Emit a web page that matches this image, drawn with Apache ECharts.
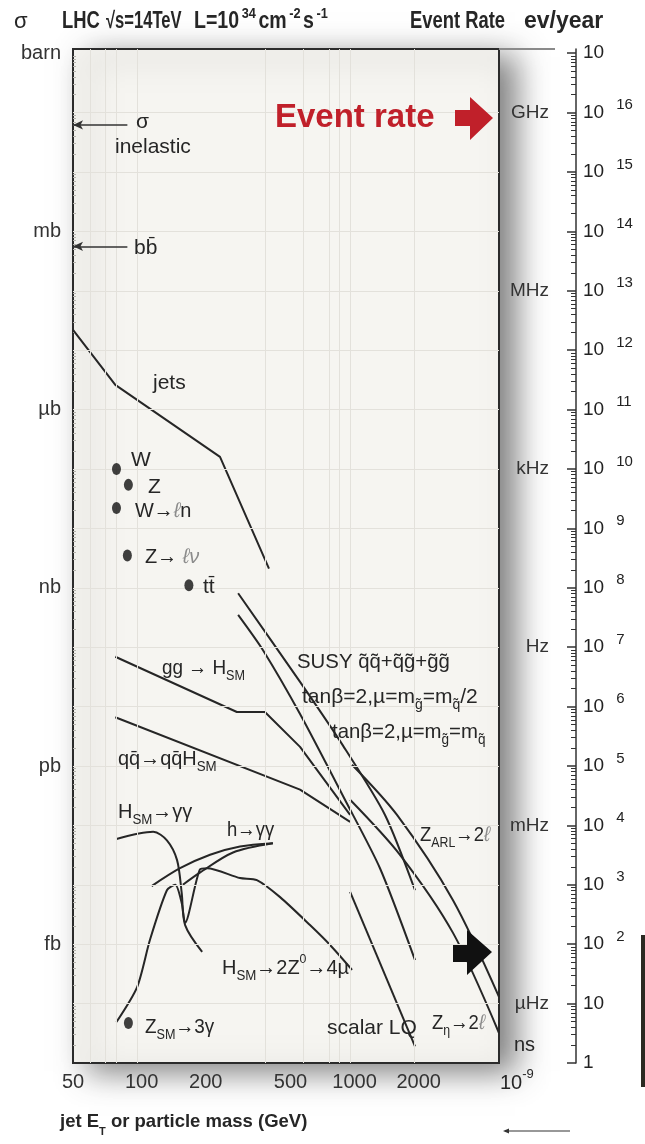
<!DOCTYPE html>
<html>
<head>
<meta charset="utf-8">
<script src="https://cdn.jsdelivr.net/npm/echarts@6/dist/echarts.min.js"></script>
<style>
  html, body { margin: 0; padding: 0; background: #ffffff; }
  #chart { width: 645px; height: 1144px; }
</style>
</head>
<body>
<div id="chart"></div>
<script>
// ---- axis labels ----
const massTicks = [50, 100, 200, 500, 1000, 2000];                 // GeV
const sigmaUnits = ['barn', 'mb', 'µb', 'nb', 'pb', 'fb'];
const sigmaUnitRates = [1e17, 1e14, 1e11, 1e8, 1e5, 1e2];          // ev/year at L=1e34
const freqUnits = ['GHz', 'MHz', 'kHz', 'Hz', 'mHz', 'µHz'];
const freqUnitRates = [1e16, 1e13, 1e10, 1e7, 1e4, 1e1];
const rateTicks = [1, 1e1, 1e2, 1e3, 1e4, 1e5, 1e6, 1e7, 1e8, 1e9, 1e10,
                   1e11, 1e12, 1e13, 1e14, 1e15, 1e16, 1e17];
const gridMasses = [60, 70, 80, 100, 400, 600, 800, 900, 1000, 2000];

// ---- reference levels marked by arrows on the sigma axis (ev/year) ----
const sigmaInelasticRate = 6.2e15;
const bbbarRate = 5.6e13;
const arrowEndMass = 90;

// ---- curves: [mass or E_T (GeV), events / year] ----
const jets = [[50, 2.2e12], [79, 2.6e11], [245, 1.6e10], [416, 2.1e8]];
const ggH = [[79, 6.9e6], [294, 8.1e5], [398, 8.1e5], [582, 2.1e5], [1000, 1.5e4]];
const qqH = [[79, 6.6e5], [582, 4.0e4], [1000, 1.15e4]];
const susyHalf = [[298, 8.1e7], [582, 2.6e6], [926, 2.2e5], [1458, 1.5e4], [2017, 8.1e2]];
const susyEqual = [[298, 3.5e7], [390, 8.9e6], [582, 7.5e5], [946, 2.7e4], [1381, 1.9e3], [2017, 54]];
const zARL = [[1021, 1.05e5], [1660, 1.5e4], [3041, 5.5e2], [5000, 13]];
const zEta = [[1000, 2.7e4], [1714, 3.2e3], [3041, 1.55e2], [5000, 3.2]];
const scalarLQ = [[1000, 7.6e2], [2017, 1.9]];
const hGammaGamma = [[80, 5.9e3], [119, 7.8e3], [138, 5.6e3], [154, 2.6e3], [162, 7.2e2], [168, 2.1e2], [202, 74]];
const hZZ4l = [[80, 4.9], [100, 19], [115, 1.2e2], [138, 8.1e2], [151, 1.0e3], [162, 4.9e2], [168, 2.3e2],
               [197, 1.8e3], [213, 1.9e3], [304, 1.3e3], [365, 1.2e3], [469, 6.2e2], [648, 2.1e2], [805, 97], [1021, 37]];
const hMssmUpper = [[117, 9.5e2], [159, 1.9e3], [220, 3.2e3], [304, 4.4e3], [434, 5.0e3]];
const hMssmLower = [[164, 1.0e3], [197, 1.6e3], [282, 3.5e3], [434, 5.0e3]];

// ---- single processes (dots) ----
const dotProcesses = ['W', 'Z', 'W→ℓn', 'Z→ℓν', 'tt̄', 'Z→3γ'];
const dotPoints = [[80, 1.0e10], [91, 5.4e9], [80, 2.2e9], [90, 3.5e8], [175, 1.1e8], [91, 4.7]];

// ---- helpers ----
const LG = v => Math.log10(v);
const toXY = pts => pts.map(p => [LG(p[0]), LG(p[1])]);
const X_MIN = LG(50), X_MAX = LG(5000);
const Y_MIN = 0, Y_MAX = 17.07;

const INK = '#262626';
const FONT = '"Liberation Sans", Arial, sans-serif';

const minorTicks = [];
for (let n = 0; n < 17; n++) for (let k = 2; k <= 9; k++) minorTicks.push(n + Math.log10(k));
const rateExp = rateTicks.map(LG);

const chart = echarts.init(document.getElementById('chart'), null, { renderer: 'canvas' });

function curve(name, pts, smooth) {
  return {
    type: 'line', name, data: toXY(pts), showSymbol: false, smooth: smooth || false,
    xAxisIndex: 0, yAxisIndex: 0, silent: true, z: 3,
    lineStyle: { color: INK, width: 2 }
  };
}

const RICH = {
  s: { fontSize: 14, fontFamily: FONT, lineHeight: 14, verticalAlign: 'bottom', fill: INK },
  p: { fontSize: 13, fontFamily: FONT, lineHeight: 13, verticalAlign: 'top', fill: INK },
  g: { fontSize: 21, fontFamily: FONT, lineHeight: 30, fill: '#8c8c8c', fontStyle: 'italic' },
  hp: { fontSize: 15, fontFamily: FONT, fontWeight: 'bold', lineHeight: 15, verticalAlign: 'top', fill: INK, padding: [0, 3, 0, 3] },
  hb: { fontSize: 11, fontFamily: FONT, fontWeight: 'bold', lineHeight: 11, verticalAlign: 'bottom', fill: INK }
};

function txt(x, y, text, extra, scaleX) {
  return {
    type: 'text', x, y, silent: true, z: 20, scaleX: scaleX || 1,
    style: Object.assign({
      text, rich: RICH, fill: INK, fontSize: 21, fontFamily: FONT, lineHeight: 30,
      align: 'left', verticalAlign: 'middle'
    }, extra || {})
  };
}

const q = 'q\u0303', gl = 'g\u0303';
const HEAD = { fontSize: 23, fontWeight: 'bold', lineHeight: 32 };
const annotations = [
  txt(136, 122, 'σ'),
  txt(115, 147, 'inelastic'),
  txt(134, 248, 'bb\u0304'),
  txt(153, 383, 'jets'),
  txt(131, 460, 'W'),
  txt(148, 487, 'Z'),
  txt(135, 511, 'W→{g|ℓ}n', null, 0.95),
  txt(145, 557, 'Z→ {g|ℓν}', null, 0.95),
  txt(203, 587, 'tt\u0304'),
  txt(162, 668, 'gg → H{s|SM}', null, 0.9),
  txt(118, 759, 'qq\u0304→qq\u0304H{s|SM}', null, 0.95),
  txt(297, 662, 'SUSY ' + q + q + '+' + q + gl + '+' + gl + gl, null, 0.97),
  txt(302, 697, 'tanβ=2,µ=m{s|' + gl + '}=m{s|' + q + '}/2', null, 1.0),
  txt(332, 732, 'tanβ=2,µ=m{s|' + gl + '}=m{s|' + q + '}', null, 0.97),
  txt(420, 835, 'Z{s|ARL}→2{g|ℓ}', null, 0.88),
  txt(118, 812, 'H{s|SM}→γγ', null, 0.95),
  txt(227, 830, 'h→γγ', null, 0.88),
  txt(222, 968, 'H{s|SM}→2Z{p|0}→4µ', null, 0.95),
  txt(145, 1027, 'Z{s|SM}→3γ', null, 0.9),
  txt(327, 1028, 'scalar LQ'),
  txt(432, 1023, 'Z{s|η}→2{g|ℓ}', null, 0.88),
  txt(514, 1045, 'ns', { fontSize: 20 }),
  txt(500, 1083, '10{p|-9}', { fontSize: 20 }),
  // header
  txt(14, 22, 'σ', { fontSize: 22 }),
  txt(62, 22, 'LHC', HEAD, 0.8),
  txt(106, 22, '√s=14TeV', HEAD, 0.72),
  txt(194, 22, 'L=10{hp|34}cm{hp|-2}s{hp|-1}', HEAD, 0.85),
  txt(410, 22, 'Event Rate', HEAD, 0.8),
  txt(524, 22, 'ev/year', HEAD, 1.0),
  // x title
  txt(60, 1122, 'jet E{hb|T} or particle mass (GeV)', { fontSize: 18.5, fontWeight: 'bold' }, 1.0),
  // event rate banner
  txt(275, 118, 'Event rate', { fontSize: 33, fontWeight: 'bold', fill: '#c0202a', lineHeight: 40 })
];

const shapes = [
  { type: 'polygon', silent: true, z: 20,
    shape: { points: [[455, 110], [470, 110], [470, 97], [493, 118], [470, 140], [470, 126], [455, 126]] },
    style: { fill: '#c0202a' } },
  { type: 'polygon', silent: true, z: 20,
    shape: { points: [[453, 945], [467, 945], [467, 930], [492, 952], [467, 975], [467, 962], [453, 962]] },
    style: { fill: '#111' } },
  { type: 'line', silent: true, z: 20, shape: { x1: 499, y1: 49, x2: 555, y2: 49 },
    style: { stroke: '#8a8a8a', lineWidth: 2 } },
  { type: 'line', silent: true, z: 20, shape: { x1: 505, y1: 1131, x2: 570, y2: 1131 },
    style: { stroke: '#333', lineWidth: 1.2 } },
  { type: 'polygon', silent: true, z: 20, shape: { points: [[503, 1131], [509, 1128.5], [509, 1133.5]] },
    style: { fill: '#333' } },
  { type: 'rect', silent: true, z: 20, shape: { x: 641, y: 935, width: 4, height: 152 },
    style: { fill: '#2b2a22' } }
];

const option = {
  animation: false,
  backgroundColor: '#ffffff',
  grid: [
    { left: 73, right: 146, top: 49, bottom: 81, show: true,
      backgroundColor: '#f6f5f1', borderColor: '#2b2b2b', borderWidth: 2,
      shadowColor: 'rgba(0,0,0,0.5)', shadowBlur: 30, shadowOffsetX: 16, shadowOffsetY: 8 },
    { left: 576, width: 1, top: 49, bottom: 81 }
  ],
  xAxis: [
    { gridIndex: 0, type: 'value', min: X_MIN, max: X_MAX,
      axisLine: { show: false }, axisTick: { show: false }, splitLine: { show: false },
      axisLabel: {
        customValues: massTicks.map(LG), margin: 9,
        formatter: v => {
          const n = Math.round(Math.pow(10, v));
          return n === 50 ? '{a|50}' : '{c|' + n + '}';
        },
        rich: {
          a: { fontSize: 20, fontFamily: FONT, color: '#333' },
          c: { fontSize: 20, fontFamily: FONT, color: '#333', padding: [0, 0, 0, 9] }
        }
      } },
    { gridIndex: 1, type: 'value', min: 0, max: 1, show: false }
  ],
  yAxis: [
    { gridIndex: 0, type: 'value', min: Y_MIN, max: Y_MAX,
      axisLine: { show: false }, splitLine: { show: false },
      axisTick: { show: true, inside: true, length: 3, customValues: minorTicks,
                  lineStyle: { color: '#b5b3ad', width: 1 } },
      axisLabel: {
        customValues: sigmaUnitRates.map(LG), margin: 12,
        fontSize: 20, fontFamily: FONT, color: '#333',
        formatter: v => sigmaUnits[sigmaUnitRates.findIndex(r => Math.abs(LG(r) - v) < 1e-6)] || ''
      } },
    // event-rate scale: line, major ticks and 10^n labels
    { gridIndex: 1, type: 'value', min: Y_MIN, max: Y_MAX, position: 'left',
      axisLine: { show: true, lineStyle: { color: '#333', width: 1.5 } },
      splitLine: { show: false },
      axisTick: { show: true, length: 9, customValues: rateExp, lineStyle: { color: '#333', width: 1.5 } },
      axisLabel: {
        inside: true, margin: 7, customValues: rateExp,
        formatter: v => {
          const e = Math.round(v);
          if (e === 0) return '{t|1}';
          if (e === 1 || e === 17) return '{t|10}';
          return '{t|10}{e|' + e + '}';
        },
        rich: {
          t: { fontSize: 19, fontFamily: FONT, color: '#222', lineHeight: 30 },
          e: { fontSize: 15, fontFamily: FONT, color: '#222', lineHeight: 15, verticalAlign: 'top', padding: [0, 0, 0, 12] }
        }
      } },
    // event-rate scale: minor ticks
    { gridIndex: 1, type: 'value', min: Y_MIN, max: Y_MAX, position: 'left',
      axisLine: { show: false }, splitLine: { show: false }, axisLabel: { show: false },
      axisTick: { show: true, length: 5, customValues: minorTicks, lineStyle: { color: '#333', width: 1 } } },
    // frequency names
    { gridIndex: 1, type: 'value', min: Y_MIN, max: Y_MAX, position: 'left',
      axisLine: { show: false }, splitLine: { show: false }, axisTick: { show: false },
      axisLabel: {
        customValues: freqUnitRates.map(LG), margin: 27,
        fontSize: 19, fontFamily: FONT, color: '#333',
        formatter: v => freqUnits[freqUnitRates.findIndex(r => Math.abs(LG(r) - v) < 1e-6)] || ''
      } }
  ],
  series: [
    // light grid
    { type: 'line', data: [], xAxisIndex: 0, yAxisIndex: 0, silent: true, z: 1,
      markLine: {
        silent: true, symbol: 'none', label: { show: false }, animation: false,
        lineStyle: { color: '#e3e1db', width: 1, type: 'solid' },
        data: rateTicks.slice(1, 17).map(r => ({ yAxis: LG(r) }))
          .concat(gridMasses.map(m => ({ xAxis: LG(m) })))
      } },
    // arrows onto the sigma axis
    { type: 'line', data: [], xAxisIndex: 0, yAxisIndex: 0, silent: true, z: 4,
      markLine: {
        silent: true, symbol: ['arrow', 'none'], symbolSize: [7, 10], label: { show: false }, animation: false,
        lineStyle: { color: '#333', width: 1.5, type: 'solid' },
        data: [
          [{ coord: [X_MIN, LG(sigmaInelasticRate)] }, { coord: [LG(arrowEndMass), LG(sigmaInelasticRate)] }],
          [{ coord: [X_MIN, LG(bbbarRate)] }, { coord: [LG(arrowEndMass), LG(bbbarRate)] }]
        ]
      } },
    curve('jets', jets),
    curve('gg→H', ggH),
    curve('qq→qqH', qqH),
    curve('SUSY m_q/2', susyHalf, 0.25),
    curve('SUSY m_q', susyEqual, 0.25),
    curve('Z_ARL', zARL, 0.3),
    curve('Z_eta', zEta, 0.3),
    curve('scalar LQ', scalarLQ),
    curve('H→γγ', hGammaGamma, 0.3),
    curve('H→ZZ→4l', hZZ4l, 0.25),
    curve('h→γγ upper', hMssmUpper, 0.3),
    curve('h→γγ lower', hMssmLower, 0.3),
    { type: 'scatter', name: 'processes', xAxisIndex: 0, yAxisIndex: 0, silent: true, z: 5,
      data: dotPoints.map((p, i) => ({ name: dotProcesses[i], value: [LG(p[0]), LG(p[1])] })),
      symbol: 'circle', symbolSize: [9, 12], itemStyle: { color: '#111' } }
  ],
  graphic: annotations.concat(shapes)
};

chart.setOption(option);
</script>
</body>
</html>
